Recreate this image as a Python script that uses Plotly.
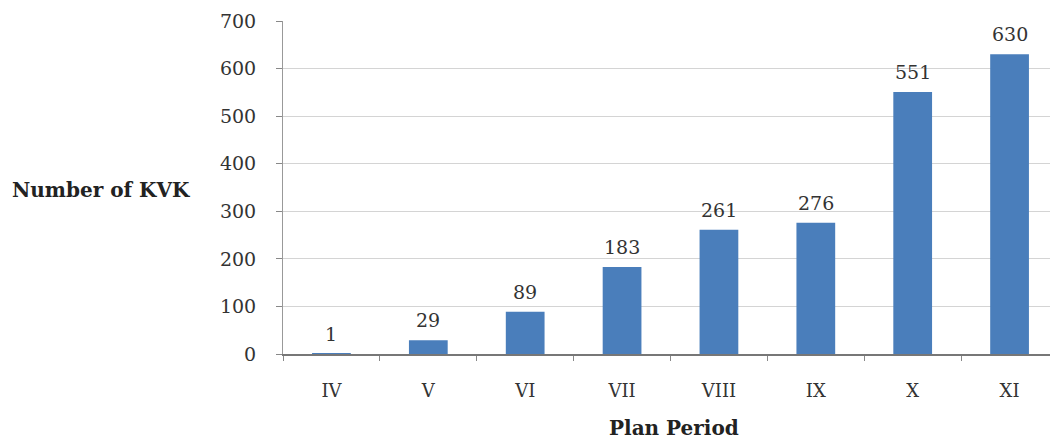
import plotly.graph_objects as go

categories = ["IV", "V", "VI", "VII", "VIII", "IX", "X", "XI"]
values = [1, 29, 89, 183, 261, 276, 551, 630]
y_ticks = [0, 100, 200, 300, 400, 500, 600, 700]

FONT = "DejaVu Serif"
BAR = "#4A7EBB"

fig = go.Figure()
fig.add_trace(go.Bar(
    x=categories, y=values, marker=dict(color=BAR, line=dict(width=0)),
    width=0.4, hoverinfo="skip", cliponaxis=False,
))

for c, v in zip(categories, values):
    fig.add_annotation(x=c, y=v, text=str(v), showarrow=False, yanchor="bottom",
                       yshift=7, font=dict(family=FONT, size=19, color="#333333"))

fig.add_annotation(xref="paper", yref="paper", x=0.504, y=-0.222, yanchor="middle",
                   text="<b>Plan Period</b>", showarrow=False,
                   font=dict(family=FONT, size=20, color="#222222"))
fig.add_annotation(xref="paper", yref="paper", x=-0.352, xanchor="left", y=0.4925,
                   yanchor="middle",
                   text="<b>Number of KVK</b>", showarrow=False,
                   font=dict(family=FONT, size=20, color="#222222"))

fig.update_layout(
    width=1050, height=432,
    margin=dict(l=275, r=0, t=13, b=86),
    plot_bgcolor="white", paper_bgcolor="white",
    showlegend=False, bargap=0.6,
    xaxis=dict(
        type="category", tickson="boundaries", ticks="outside", ticklen=5,
        tickcolor="#888888", showline=True, linecolor="#777777", linewidth=1.5,
        showgrid=False, ticklabelstandoff=20,
        tickfont=dict(family=FONT, size=18, color="#333333"),
    ),
    yaxis=dict(
        range=[0, 700], tickvals=y_ticks, ticks="outside", ticklen=6,
        tickcolor="#888888", showline=True, linecolor="#999999", linewidth=1,
        showgrid=True, gridcolor="#D4D4D4", gridwidth=1, zeroline=False,
        ticklabelstandoff=16,
        tickfont=dict(family=FONT, size=19, color="#333333"),
    ),
)

fig.write_html("out.html")
